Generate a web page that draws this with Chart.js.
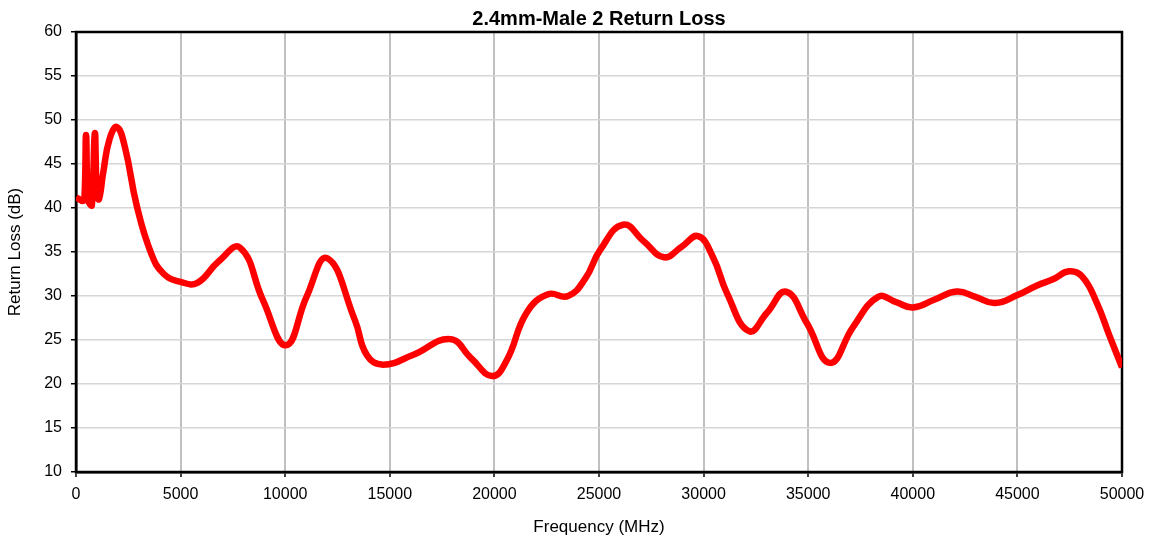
<!DOCTYPE html>
<html>
<head>
<meta charset="utf-8">
<script src="https://cdn.jsdelivr.net/npm/chart.js@4.4.1/dist/chart.umd.min.js"></script>
<style>
  html, body { margin: 0; padding: 0; background: #fff; }
  #wrap { width: 1154px; height: 541px; position: relative; }
</style>
</head>
<body>
<div id="wrap"><canvas id="chart"></canvas></div>
<script>
// frequency in MHz
const freqMHz = [
  0, 150, 300, 400, 480, 560, 650, 760, 900, 1000,
  1100, 1300, 1600, 1960, 2340, 2900, 3600, 4200, 5000, 5800,
  6800, 7840, 8940, 10040, 11020, 12000, 13340, 13900, 14680, 16100,
  17880, 18900, 19890, 20590, 21540, 22560, 23520, 24350, 25050, 26150,
  27150, 28110, 28950, 29740, 30450, 31120, 32170, 33030, 33940, 34940,
  36040, 37150, 38340, 39200, 40010, 41050, 42100, 43000, 43930, 45000,
  45940, 46700, 47470, 48100, 48800, 49400, 50000
];
// return loss in dB
const returnLoss = [
  41.2, 41, 40.8, 41, 48.3, 41, 40.5, 40.3, 48.5, 41.5,
  41, 44, 47.8, 49.2, 46.9, 40.3, 34.8, 32.5, 31.6, 31.5,
  33.9, 35.5, 29.5, 24.4, 29.9, 34.3, 27.2, 23.3, 22.2, 23.3,
  25.1, 22.9, 20.9, 22.7, 28.1, 30.2, 30, 32, 35.2, 38.1,
  36.2, 34.4, 35.6, 36.8, 34.4, 30.3, 26, 28.1, 30.5, 26.9,
  22.4, 26.5, 29.9, 29.3, 28.7, 29.6, 30.5, 29.9, 29.2, 30.1,
  31.2, 31.9, 32.8, 32.2, 29.2, 25.5, 21.9
];

const xTicks = { min: 0, max: 50000, step: 5000 };
const yTicks = { min: 10, max: 60, step: 5 };

const FONT = 'Liberation Sans, Arial, sans-serif';

// black frame round the plot area
const frame = {
  id: 'frame',
  beforeDatasetsDraw(chart) {
    const { ctx, chartArea: a } = chart;
    ctx.save();
    ctx.strokeStyle = '#000';
    ctx.lineWidth = 2.5;
    ctx.strokeRect(a.left, a.top, a.right - a.left, a.bottom - a.top);
    ctx.restore();
  }
};

new Chart(document.getElementById('chart'), {
  type: 'line',
  data: {
    datasets: [{
      label: 'Return Loss',
      data: freqMHz.map((f, i) => ({ x: f, y: returnLoss[i] })),
      borderColor: '#ff0000',
      borderWidth: 6.5,
      pointRadius: 0,
      tension: 0.45,
      fill: false
    }]
  },
  options: {
    responsive: true,
    maintainAspectRatio: false,
    animation: false,
    layout: { padding: { left: 0, right: 32, top: 0, bottom: 0 } },
    plugins: {
      legend: { display: false },
      tooltip: { enabled: false },
      title: {
        display: true,
        fullSize: false,
        text: '2.4mm-Male 2 Return Loss',
        color: '#000',
        font: { family: FONT, size: 20, weight: 'bold' },
        padding: { top: 7, bottom: 1 }
      }
    },
    scales: {
      x: {
        type: 'linear',
        min: xTicks.min,
        max: xTicks.max,
        afterFit(scale) { scale.height = 69; },
        ticks: {
          stepSize: xTicks.step,
          color: '#000',
          font: { family: FONT, size: 16 },
          padding: 8,
          maxRotation: 0,
          callback: v => String(v)
        },
        grid: {
          color: '#c0c0c0',
          lineWidth: 2,
          tickColor: '#000',
          tickLength: 5,
          tickWidth: 1.5
        },
        border: { color: '#000', width: 2.5 },
        title: {
          display: true,
          text: 'Frequency (MHz)',
          color: '#000',
          font: { family: FONT, size: 17 },
          padding: { top: 0, bottom: 3 }
        }
      },
      y: {
        min: yTicks.min,
        max: yTicks.max,
        afterFit(scale) { scale.width = 76; },
        ticks: {
          stepSize: yTicks.step,
          color: '#000',
          font: { family: FONT, size: 16 },
          padding: 9
        },
        grid: {
          color: '#d6d6d6',
          lineWidth: 1.5,
          tickColor: '#000',
          tickLength: 5,
          tickWidth: 1.5
        },
        border: { color: '#000', width: 2.5 },
        title: {
          display: true,
          text: 'Return Loss (dB)',
          color: '#000',
          font: { family: FONT, size: 17 },
          padding: { top: 5, bottom: 0 }
        }
      }
    }
  },
  plugins: [frame]
});
</script>
</body>
</html>
